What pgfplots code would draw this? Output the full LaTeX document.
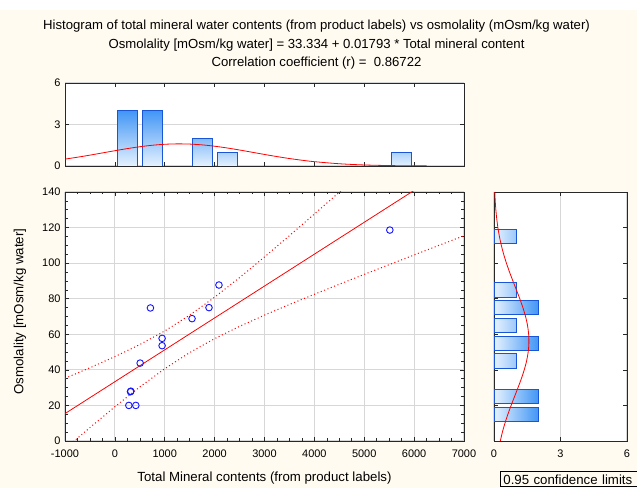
\documentclass[border=0pt]{standalone}
\usepackage{pgfplots}
\pgfplotsset{compat=1.18}
\usepackage{fontspec}
\setmainfont{Liberation Sans}
\definecolor{cream}{RGB}{255,251,240}
\definecolor{gridgray}{RGB}{215,215,215}
\definecolor{barEdge}{RGB}{25,85,215}
\definecolor{barDark}{RGB}{65,150,245}
\definecolor{barLight}{RGB}{230,242,254}
\definecolor{framegray}{RGB}{40,40,40}
\definecolor{lred}{RGB}{255,0,0}
\definecolor{mblue}{RGB}{20,20,255}
\pgfplotsset{
  base/.style={
    scale only axis,
    axis line style={framegray, line width=0.8bp},
    tick style={framegray, line width=0.6bp},
    major tick length=4bp, minor tick length=2.5bp,
    tick label style={font=\fontsize{11}{13}\selectfont},
    label style={font=\fontsize{13.3}{15}\selectfont},
    /pgf/number format/assume math mode=true,
    /pgf/number format/1000 sep={},
    scaled ticks=false,
    grid style={gridgray, line width=1.2bp},
    axis background/.style={fill=white},
    xticklabel style={yshift=-5bp},
    yticklabel style={xshift=-1bp},
  },
  dotband/.style={lred, line width=1bp, dash pattern=on 1bp off 2.6bp},
}
\begin{document}
\begin{tikzpicture}
\path[use as bounding box] (0,0) rectangle (637bp,488bp);
\fill[white] (0,0) rectangle (637bp,488bp);
\fill[cream] (0,0) rectangle (637bp,478bp);
\node[align=center, font=\fontsize{13.2}{18.5}\selectfont, anchor=center] at (316.5bp,443bp)
  {Histogram of total mineral water contents (from product labels) vs osmolality (mOsm/kg water)\\
   Osmolality [mOsm/kg water] = 33.334 + 0.01793 * Total mineral content\\
   Correlation coefficient (r) =\ \ 0.86722};

% ---- top histogram ----
\begin{axis}[base, at={(65bp,322bp)}, anchor=south west, width=399bp, height=83bp,
  xmin=-1000, xmax=7000, ymin=0, ymax=6,
  xtick={-1000,0,...,7000}, xticklabels={}, ytick={0,3,6},
  ymajorgrids]
\addplot[ybar, bar width=400, bar shift=0, draw=barEdge, line width=0.8bp,
  top color=barDark, bottom color=barLight] coordinates {(250,4) (750,4)};
\addplot[ybar, bar width=400, bar shift=0, draw=barEdge, line width=0.8bp,
  top color=barDark!60!barLight, bottom color=barLight] coordinates {(1750,2)};
\addplot[ybar, bar width=400, bar shift=0, draw=barEdge, line width=0.8bp,
  top color=barDark!35!barLight, bottom color=barLight] coordinates {(2250,1) (5750,1)};
\addplot[lred, line width=0.8bp, smooth, mark=none] coordinates {
(-1000,0.499) (-750,0.635) (-500,0.785) (-250,0.945) (0,1.105) (250,1.258) (500,1.393)
(750,1.500) (1000,1.570) (1250,1.599) (1500,1.584) (1750,1.527) (2000,1.430) (2250,1.304)
(2500,1.156) (2750,0.996) (3000,0.835) (3250,0.681) (3500,0.540) (3750,0.417) (4000,0.313)
(4500,0.162) (5000,0.075) (5500,0.031) (6000,0.012) (6250,0.007)};
\end{axis}

% ---- main scatter ----
\begin{axis}[base, at={(65bp,47bp)}, anchor=south west, width=399bp, height=249bp,
  xmin=-1000, xmax=7000, ymin=0, ymax=140,
  xtick={-1000,0,...,7000}, ytick={0,20,...,140},
  minor x tick num=3, minor y tick num=3,
  grid=major,
  xlabel={Total Mineral contents (from product labels)},
  ylabel={Osmolality [mOsm/kg water]},
  xlabel style={at={(axis description cs:0.5,-0.149)}, anchor=center},
  ylabel style={at={(axis description cs:-0.113,0.52)}, anchor=center, rotate=0}]
\addplot[dotband] coordinates {
(-1000,35.25) (-500,41.18) (0,47.43) (500,54.22) (1000,61.87) (1500,70.74) (2000,80.84)
(2500,91.87) (3000,103.48) (3500,115.44) (4000,127.61) (4500,139.91) (5000,152.29)};
\addplot[dotband] coordinates {
(-1000,-4.44) (-500,7.56) (0,19.24) (500,30.38) (1000,40.65) (1500,49.72) (2000,57.55)
(2500,64.45) (3000,70.77) (3500,76.74) (4000,82.50) (4500,88.13) (5000,93.68) (5500,99.16)
(6000,104.60) (6500,110.02) (7000,115.41)};
\addplot[lred, line width=0.8bp] coordinates {(-1000,15.40) (7000,158.84)};
\addplot[only marks, mark=o, mark size=3.3bp, mblue, mark options={line width=0.9bp}] coordinates {
(5513,118.6) (2087,87.7) (713,74.8) (1887,75.0) (1547,68.8) (947,57.7) (947,53.6)
(507,43.8) (313,27.7) (320,28.0) (280,20.0) (420,20.0)};
\end{axis}

% ---- right histogram ----
\begin{axis}[base, at={(494bp,47bp)}, anchor=south west, width=133bp, height=249bp,
  xmin=0, xmax=6, ymin=0, ymax=140,
  xtick={0,3,6}, ytick={0,20,...,140}, yticklabels={},
  xmajorgrids]
\addplot[xbar, bar width=8, bar shift=0, draw=barEdge, line width=0.8bp,
  left color=barLight, right color=barDark] coordinates {(2,75) (2,55) (2,25) (2,15)};
\addplot[xbar, bar width=8, bar shift=0, draw=barEdge, line width=0.8bp,
  left color=barLight, right color=barDark!45!barLight] coordinates {(1,115) (1,85) (1,65) (1,45)};
\addplot[lred, line width=0.8bp, smooth, mark=none] coordinates {
(0.284,0) (0.379,5) (0.494,10) (0.626,15) (0.772,20) (0.927,25) (1.083,30) (1.232,35)
(1.364,40) (1.470,45) (1.541,50) (1.574,55) (1.563,60) (1.512,65) (1.423,70) (1.303,75)
(1.162,80) (1.009,85) (0.852,90) (0.700,95) (0.561,100) (0.436,105) (0.331,110) (0.244,115)
(0.175,120) (0.123,125) (0.083,130) (0.055,135) (0.036,140)};
\end{axis}

\node[draw=black, line width=0.8bp, anchor=north west, inner xsep=3bp, inner ysep=2.5bp,
  text width=160bp, align=left,
  font=\fontsize{13.3}{15}\selectfont] at (500bp,16.5bp) {0.95 confidence limits};
\end{tikzpicture}
\end{document}
